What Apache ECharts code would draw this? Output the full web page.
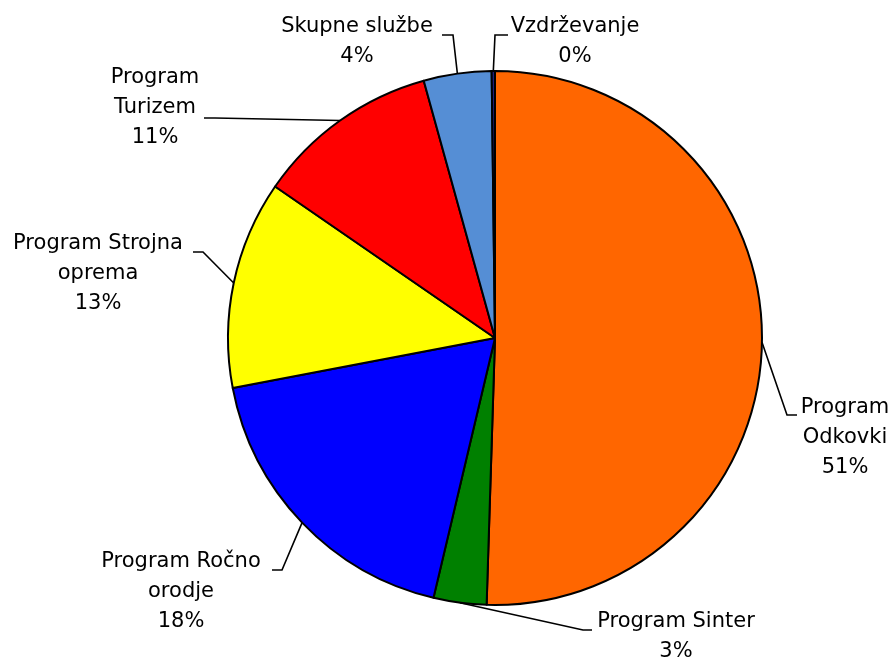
<!DOCTYPE html>
<html>
<head>
<meta charset="utf-8">
<script src="https://cdn.jsdelivr.net/npm/echarts@6/dist/echarts.min.js"></script>
<style>
  html, body { margin: 0; padding: 0; background: #fff; }
  #chart { width: 896px; height: 662px; }
</style>
</head>
<body>
<div id="chart"></div>
<script>
// data (percent shares)
const names = [
  "Program Odkovki",
  "Program Sinter",
  "Program Ročno orodje",
  "Program Strojna oprema",
  "Program Turizem",
  "Skupne službe",
  "Vzdrževanje",
];
const labelTexts = [
  "Program\nOdkovki",
  "Program Sinter",
  "Program Ročno\norodje",
  "Program Strojna\noprema",
  "Program\nTurizem",
  "Skupne službe",
  "Vzdrževanje",
];
const values = [50.5, 3.2, 18.3, 12.6, 11.1, 4.1, 0.2];
const colors = ["#FF6600", "#008000", "#0000FF", "#FFFF00", "#FF0000", "#558ED5", "#1F1F7A"];

// label placement (block centre) and leader-line bends
const labelPos = [
  [845, 438], [676, 637], [181, 592], [98, 274], [155, 108], [357, 42], [575, 42],
];
const linePts = [
  [[787, 415], [797, 415]],
  [[583, 630], [592, 630]],
  [[282, 570], [272, 570]],
  [[203, 252], [193, 252]],
  [[215, 118], [204, 118]],
  [[453, 35], [442, 35]],
  [[495, 35], [508, 35]],
];

let myChart = echarts.init(document.getElementById("chart"), null, { renderer: "canvas" });

let option = {
  animation: false,
  series: [
    {
      type: "pie",
      center: [495, 338],
      radius: 267,
      startAngle: 90,
      clockwise: true,
      avoidLabelOverlap: false,
      data: names.map((n, i) => ({
        name: n,
        value: values[i],
        itemStyle: { color: colors[i] },
      })),
      itemStyle: { borderColor: "#000", borderWidth: 2 },
      label: {
        show: true,
        position: "outside",
        fontFamily: "DejaVu Sans",
        fontSize: 21,
        lineHeight: 30,
        color: "#000",
        align: "center",
        formatter: (p) => labelTexts[p.dataIndex] + "\n" + Math.round(p.percent) + "%",
      },
      labelLine: {
        show: true,
        smooth: false,
        lineStyle: { color: "#000", width: 1.6 },
      },
      labelLayout: (params) => {
        const i = params.dataIndex;
        const start = params.labelLinePoints ? params.labelLinePoints[0] : linePts[i][0];
        return {
          x: labelPos[i][0],
          y: labelPos[i][1],
          align: "center",
          verticalAlign: "middle",
          labelLinePoints: [start, linePts[i][0], linePts[i][1]],
        };
      },
      emphasis: { disabled: true },
    },
  ],
};

myChart.setOption(option);
</script>
</body>
</html>
